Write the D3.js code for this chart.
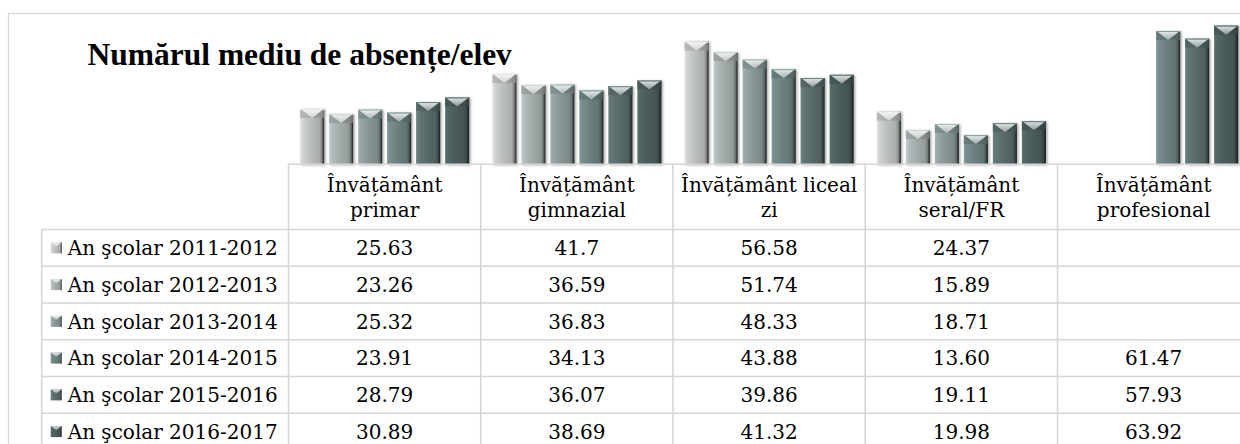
<!DOCTYPE html>
<html>
<head>
<meta charset="utf-8">
<script src="https://cdn.jsdelivr.net/npm/d3@7"></script>
<style>
  html, body { margin: 0; padding: 0; background: #fff; overflow: hidden; }
  svg { display: block; }
</style>
</head>
<body>
<svg id="chart" width="1240" height="444"></svg>
<script>
// ---- data ----
const title = "Numărul mediu de absențe/elev";
const categories = ["Învățământ primar", "Învățământ gimnazial", "Învățământ liceal zi", "Învățământ seral/FR", "Învățământ profesional"];
const categoryLines = [["Învățământ", "primar"], ["Învățământ", "gimnazial"], ["Învățământ liceal", "zi"], ["Învățământ", "seral/FR"], ["Învățământ", "profesional"]];
const seriesNames = ["An şcolar 2011-2012", "An şcolar 2012-2013", "An şcolar 2013-2014", "An şcolar 2014-2015", "An şcolar 2015-2016", "An şcolar 2016-2017"];
const s2011 = ["25.63", "41.7", "56.58", "24.37", ""];
const s2012 = ["23.26", "36.59", "51.74", "15.89", ""];
const s2013 = ["25.32", "36.83", "48.33", "18.71", ""];
const s2014 = ["23.91", "34.13", "43.88", "13.60", "61.47"];
const s2015 = ["28.79", "36.07", "39.86", "19.11", "57.93"];
const s2016 = ["30.89", "38.69", "41.32", "19.98", "63.92"];
const seriesValues = [s2011, s2012, s2013, s2014, s2015, s2016];
const seriesColors = ["#b9bdbd", "#a2aaaa", "#879595", "#6b7f7f", "#586a6a", "#4a5b5b"];

// ---- layout ----
const svg = d3.select("#chart");
const defs = svg.append("defs");
const serif = "'DejaVu Serif', serif";

const tableLeft = 41.7, labelRight = 288.5, colW = 192.25;
const headerTop = 164.3, headerBottom = 229.5, rowH = 36.75;

// chart frame
svg.append("rect").attr("x", 8.5).attr("y", 13.5).attr("width", 1400).attr("height", 600)
  .attr("fill", "#fff").attr("stroke", "#d9d9d9").attr("stroke-width", 1.3);

// title
svg.append("text").attr("x", 87.5).attr("y", 65)
  .attr("font-family", "'Liberation Serif', 'Times New Roman', serif")
  .attr("font-weight", "bold").attr("font-size", 31.5).attr("fill", "#000")
  .text(title);

// scales
const x = d3.scaleBand().domain(categories).range([labelRight, labelRight + colW * categories.length]).padding(0);
const xs = d3.scaleBand().domain(seriesNames).range([0, x.bandwidth()])
  .paddingInner(5 / 29).paddingOuter(0.4).align(0.5);
const y = d3.scaleLinear().domain([0, 70]).range([164.7, 12.45]);

// gradients
seriesColors.forEach((c, i) => {
  const base = d3.color(c);
  const g = defs.append("linearGradient").attr("id", "bg" + i).attr("x1", 0).attr("x2", 1).attr("y1", 0).attr("y2", 0);
  [[0, base.brighter(0.55)], [0.12, base.brighter(0.3)], [0.45, base], [0.8, base.darker(0.25)],
   [0.9, base.darker(0.9)], [1, d3.color("#151a1a")]]
    .forEach(([o, col]) => g.append("stop").attr("offset", o).attr("stop-color", col.formatHex()));
  const t = defs.append("linearGradient").attr("id", "tg" + i).attr("x1", 0).attr("x2", 0).attr("y1", 0).attr("y2", 1);
  const top = d3.interpolateRgb(c, "#ffffff");
  t.append("stop").attr("offset", 0).attr("stop-color", top(0.85));
  t.append("stop").attr("offset", 1).attr("stop-color", top(0.35));
  const s = defs.append("linearGradient").attr("id", "sg" + i).attr("x1", 0).attr("x2", 1).attr("y1", 0).attr("y2", 0);
  s.append("stop").attr("offset", 0).attr("stop-color", base.darker(0.15).formatHex());
  s.append("stop").attr("offset", 0.5).attr("stop-color", base.darker(0.35).formatHex());
  s.append("stop").attr("offset", 1).attr("stop-color", base.darker(0.9).formatHex());
});
const f = defs.append("filter").attr("id", "shadow").attr("x", "-20%").attr("y", "-10%").attr("width", "150%").attr("height", "130%");
f.append("feDropShadow").attr("dx", 1.5).attr("dy", 0.5).attr("stdDeviation", 1.2)
  .attr("flood-color", "#000").attr("flood-opacity", 0.35);

// bars
const barData = [];
seriesValues.forEach((vals, si) => {
  vals.forEach((v, ci) => {
    if (v !== "") barData.push({ si, cat: categories[ci], v: +v });
  });
});
const bars = svg.append("g").selectAll("g").data(barData).join("g")
  .attr("transform", d => `translate(${x(d.cat) + xs(seriesNames[d.si])},0)`);
const bw = xs.bandwidth();
bars.append("rect").attr("x", 0).attr("y", d => y(d.v)).attr("width", bw)
  .attr("height", d => y(0) - y(d.v)).attr("fill", d => `url(#bg${d.si})`).attr("filter", "url(#shadow)");
// top bevel: darker sides + light downward triangle
bars.append("path").attr("d", d => {
  const t = y(d.v), h = Math.min(9, y(0) - t);
  return `M0,${t}H${bw}V${t + h}L${bw / 2},${t + h}L0,${t + h}Z`;
}).attr("fill", d => `url(#sg${d.si})`).attr("opacity", 0.85);
bars.append("path").attr("d", d => {
  const t = y(d.v), h = Math.min(9, y(0) - t);
  return `M0.5,${t}H${bw - 0.5}L${bw / 2},${t + h}Z`;
}).attr("fill", d => `url(#tg${d.si})`);
bars.append("line").attr("x1", 0).attr("x2", bw).attr("y1", d => y(d.v) + 0.5).attr("y2", d => y(d.v) + 0.5)
  .attr("stroke", d => d3.color(seriesColors[d.si]).brighter(0.6).formatHex()).attr("stroke-width", 1);

// ---- data table ----
const grid = svg.append("g").attr("stroke", "#d6d6d6").attr("stroke-width", 1.6).attr("fill", "none");
const right = 1300;
const rowY = i => headerBottom + i * rowH;
grid.append("line").attr("x1", labelRight).attr("x2", right).attr("y1", headerTop).attr("y2", headerTop);
d3.range(seriesNames.length + 1).forEach(i => {
  grid.append("line").attr("x1", tableLeft).attr("x2", right).attr("y1", rowY(i)).attr("y2", rowY(i));
});
grid.append("line").attr("x1", tableLeft).attr("x2", tableLeft).attr("y1", headerBottom).attr("y2", 460);
categories.forEach(c => {
  grid.append("line").attr("x1", x(c)).attr("x2", x(c)).attr("y1", headerTop).attr("y2", 460);
});

const txt = svg.append("g").attr("font-family", serif).attr("font-size", 20).attr("fill", "#000");
// headers
categories.forEach((c, ci) => {
  categoryLines[ci].forEach((line, li) => {
    txt.append("text").attr("x", x(c) + colW / 2).attr("y", headerTop + 27.5 + li * 25.5)
      .attr("text-anchor", "middle").text(line);
  });
});
// rows
seriesNames.forEach((name, si) => {
  const cy = rowY(si) + rowH / 2;
  const k = svg.append("g").attr("transform", `translate(50.7,${cy - 5.5})`);
  k.append("rect").attr("width", 11).attr("height", 11).attr("fill", `url(#bg${si})`);
  k.append("path").attr("d", "M0.5,0H10.5L5.5,4Z").attr("fill", `url(#tg${si})`);
  txt.append("text").attr("x", 67.7).attr("y", cy + 7.3).text(name);
  seriesValues[si].forEach((v, ci) => {
    if (v === "") return;
    txt.append("text").attr("x", x(categories[ci]) + colW / 2).attr("y", cy + 7.3)
      .attr("text-anchor", "middle").text(v);
  });
});
</script>
</body>
</html>
